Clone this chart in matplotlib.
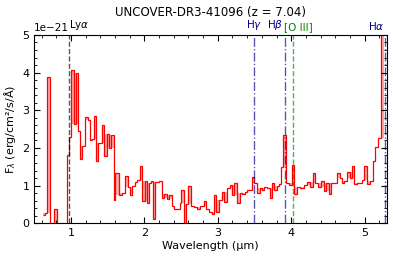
import numpy as np
import matplotlib
matplotlib.use("Agg")
import matplotlib.pyplot as plt
from matplotlib.ticker import AutoMinorLocator
from matplotlib import transforms

# binned prism spectrum (bin edges in micron, flux in 1e-21 erg/cm2/s/A)
edges = [0.62, 0.65, 0.68, 0.716, 0.745, 0.772, 0.808, 0.84, 0.88, 0.915, 0.95,
         0.977, 1.004, 1.045, 1.072, 1.10, 1.127, 1.15, 1.186, 1.23, 1.254,
         1.285, 1.31, 1.345, 1.375, 1.42, 1.455, 1.49, 1.52, 1.55, 1.585,
         1.604, 1.649, 1.694, 1.74, 1.771, 1.799, 1.831, 1.876, 1.899, 1.935,
         1.967, 2.003, 2.035, 2.057, 2.085, 2.117, 2.15, 2.194, 2.24, 2.271,
         2.308, 2.342, 2.376, 2.407, 2.444, 2.48, 2.503, 2.535, 2.57, 2.60,
         2.64, 2.67, 2.72, 2.761, 2.807, 2.843, 2.879, 2.925, 2.952, 2.979,
         3.016, 3.056, 3.088, 3.125, 3.161, 3.193, 3.224, 3.261, 3.297, 3.329,
         3.365, 3.397, 3.433, 3.465, 3.497, 3.533, 3.570, 3.601, 3.633, 3.669,
         3.706, 3.737, 3.769, 3.806, 3.837, 3.860, 3.887, 3.928, 3.974, 4.010,
         4.042, 4.078, 4.124, 4.169, 4.214, 4.260, 4.296, 4.328, 4.364, 4.405,
         4.441, 4.478, 4.509, 4.541, 4.578, 4.623, 4.659, 4.691, 4.723, 4.759,
         4.796, 4.827, 4.859, 4.895, 4.927, 4.963, 4.995, 5.032, 5.068, 5.113,
         5.145, 5.18, 5.222, 5.26]
flux = [0.22, 0.28, 3.88, -0.4, -0.3, 0.38, -0.6, -0.4, -0.5, -0.3,
        1.82, 2.29, 4.08, 2.63, 3.99, 2.44, 1.70, 2.04, 2.82, 2.75,
        2.21, 2.25, 2.85, 1.64, 2.13, 2.61, 1.79, 2.37, 2.00, 2.35,
        0.62, 1.33, 0.75, 0.80, 1.26, 0.97, 0.74, 1.00, 1.09, 1.15,
        1.51, 0.60, 1.13, 0.55, 1.08, 1.12, 0.12, 1.10, 1.13, 0.68,
        0.78, 0.65, 0.75, 0.47, 0.38, 0.38, 0.55, 0.87, -0.2, 0.52,
        0.98, 0.47, 0.42, 0.38, 0.45, 0.60, 0.37, 0.30, 0.25, 0.75,
        0.31, 0.62, 0.84, 0.57, 0.93, 1.02, 0.75, 1.06, 0.55, 0.80,
        0.78, 0.84, 0.87, 0.89, 1.24, 1.06, 0.80, 0.93, 0.89, 0.97,
        0.93, 0.66, 1.08, 0.89, 0.98, 1.04, 1.49, 2.35, 1.06, 1.02,
        1.55, 0.78, 0.96, 0.93, 1.02, 1.10, 0.97, 1.34, 1.06, 0.97,
        1.11, 0.86, 1.06, 0.78, 1.06, 1.06, 1.33, 1.20, 1.08, 1.11,
        1.35, 1.21, 1.51, 1.04, 1.08, 1.06, 1.15, 1.51, 1.04, 1.11,
        1.64, 2.02, 2.26, 6.5]

z = 7.04
lines = {"Ly$\\alpha$": 0.12157, "H$\\gamma$": 0.43405, "H$\\beta$": 0.48613,
         "[O III]": 0.50082, "H$\\alpha$": 0.65628}

edges = np.array(edges)
f = np.array(flux) * 1e-21
# local median of neighbouring bins, used as the shaded band
fp = np.pad(f, 1, mode="reflect")
base = np.median(np.vstack([fp[:-2], fp[1:-1], fp[2:]]), axis=0)

fig = plt.figure(figsize=(3.93, 2.59), dpi=100)
ax = fig.add_axes([0.087, 0.138, 0.897, 0.727])

ax.stairs(f, edges, baseline=base, fill=True, color="red", alpha=0.35, lw=0)
ax.stairs(f, edges, baseline=None, color="red", lw=0.9)

trans = transforms.blended_transform_factory(ax.transData, ax.transAxes)
styles = {"Ly$\\alpha$": ("k", "--", "left", 0),
          "H$\\gamma$": ("navy", "-.", "center", 0),
          "H$\\beta$": ("navy", "-.", "right", -1),
          "[O III]": ("green", "--", "center", 3.5),
          "H$\\alpha$": ("navy", "-.", "right", 0)}
for name, rest in lines.items():
    col, ls, ha, dx = styles[name]
    wl = rest * (1 + z)
    ax.axvline(wl, color=col, ls=ls, lw=1.0, alpha=0.65)
    ax.annotate(name, xy=(wl, 1.0), xycoords=trans, xytext=(dx, 2),
                textcoords="offset points", ha=ha, va="bottom",
                color=col, fontsize=7.5)

ax.set_xlim(0.5, 5.3)
ax.set_ylim(0, 5e-21)
ax.xaxis.set_minor_locator(AutoMinorLocator(5))
ax.yaxis.set_minor_locator(AutoMinorLocator(5))
ax.tick_params(which="both", direction="in", top=True, right=True, labelsize=8)
ax.tick_params(which="major", length=4)
ax.tick_params(which="minor", length=2)
ax.yaxis.get_offset_text().set_fontsize(7.5)

ax.set_xlabel("Wavelength (μm)", fontsize=8, labelpad=2)
ax.set_ylabel("F$_\\lambda$ (erg/cm²/s/Å)", fontsize=8, labelpad=3)
ax.set_title("UNCOVER-DR3-41096 (z = 7.04)", fontsize=8.5, pad=14)

fig.savefig("out.png", dpi=100)
